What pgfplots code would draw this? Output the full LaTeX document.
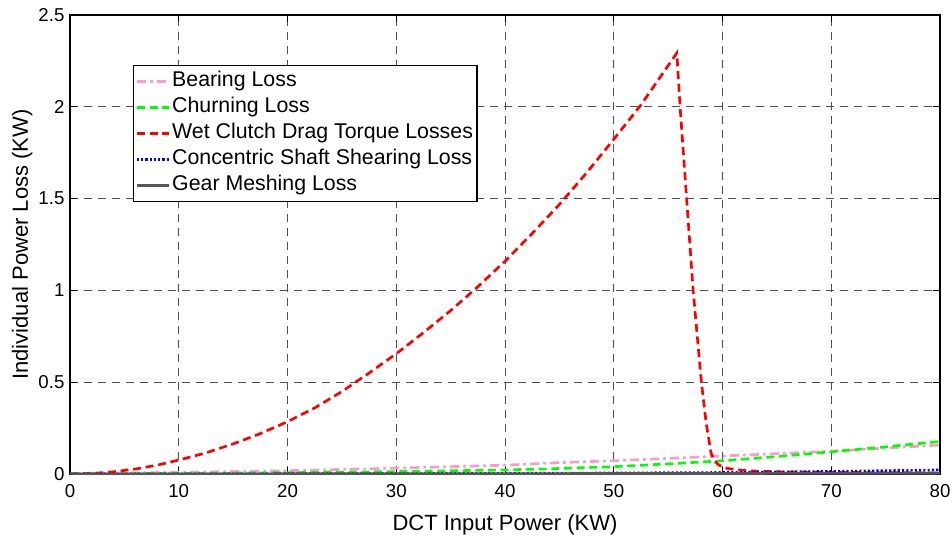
\documentclass[border=0pt]{standalone}
\usepackage{fontspec}
\setmainfont{Liberation Sans}
\usepackage{pgfplots}
\pgfplotsset{compat=1.18}

\definecolor{bearing}{RGB}{255,153,204}
\definecolor{gridgray}{RGB}{80,80,80}
\definecolor{gearmesh}{RGB}{85,85,85}

\begin{document}
\begin{tikzpicture}
\begin{axis}[
    scale only axis,
    width=652.5pt,
    height=344.25pt,
    xmin=0, xmax=80,
    ymin=0, ymax=2.5,
    xtick={0,10,...,80},
    ytick={0,0.5,1,1.5,2,2.5},
    tick align=inside,
    major tick length=5pt,
    tick style={black, line width=0.6pt},
    axis line style={line width=0.8pt},
    grid=major,
    grid style={gridgray, line width=0.7pt, dash pattern=on 6pt off 4.5pt},
    /pgf/number format/assume math mode=true,
    tick label style={font=\fontsize{14}{16}\selectfont},
    xticklabel style={inner sep=0pt, yshift=-7.5pt},
    yticklabel style={inner sep=0pt, xshift=-4pt},
    label style={font=\fontsize{16.5}{19}\selectfont},
    xlabel={DCT Input Power (KW)},
    ylabel={Individual Power Loss (KW)},
    xlabel style={at={(axis description cs:0.5,-0.122)}, anchor=base},
    ylabel style={at={(axis description cs:-0.055,0.5)}, anchor=center},
    legend cell align=left,
    legend image code/.code={\draw[#1] (0pt,0pt) -- (24pt,0pt);},
    legend style={
        at={(0.0724,0.891)}, anchor=north west,
        draw=black, line width=0.8pt,
        font=\fontsize{16}{19}\selectfont,
        inner xsep=1.5pt, inner ysep=3pt,
        row sep=1.5pt,
        nodes={inner sep=1.5pt, text height=11.5pt, text depth=3.5pt},
    },
]
% Bearing loss
\addplot[bearing, line width=2pt, dash pattern=on 7pt off 3pt on 2pt off 3pt] coordinates {
(0,0.003) (10,0.009) (20,0.018) (30,0.032) (40,0.048) (45,0.062) (50,0.072)
(60,0.098) (70,0.124) (80,0.158)
};
% Churning loss
\addplot[green, line width=2pt, dash pattern=on 6pt off 3.5pt] coordinates {
(0,0.001) (10,0.003) (20,0.007) (30,0.013) (40,0.022) (45,0.030) (50,0.040)
(55,0.055) (60,0.072) (65,0.095) (70,0.121) (75,0.148) (80,0.177)
};
% Wet clutch drag torque losses
\addplot[red, line width=2pt, dash pattern=on 6pt off 3.5pt] coordinates {
(0,0) (2,0.003) (4,0.012) (6,0.027) (8,0.048) (10,0.076) (12.5,0.115)
(15,0.164) (17.5,0.22) (20,0.285) (22.5,0.36) (25,0.449) (27.5,0.55)
(30,0.655) (32.5,0.77) (35,0.89) (37.5,1.02) (40,1.159) (42.5,1.31)
(45,1.468) (47.5,1.64) (50,1.823) (52.5,2.01) (55.8,2.293)
(56.1,2.0) (56.7,1.5) (57.3,1.0) (58.06,0.5) (58.5,0.277) (58.95,0.113)
(59.3,0.07) (59.65,0.049) (60.4,0.031) (61.5,0.022) (62.5,0.017)
(65,0.012) (70,0.009) (75,0.007) (80,0.006)
};
% Concentric shaft shearing loss
\addplot[blue, line width=2pt, dash pattern=on 1.6pt off 1.6pt] coordinates {
(0,0) (20,0.001) (40,0.003) (60,0.008) (70,0.014) (80,0.022)
};
% Gear meshing loss
\addplot[gearmesh, line width=2pt] coordinates {
(0,0) (40,0.002) (80,0.004)
};
\legend{Bearing Loss, Churning Loss, Wet Clutch Drag Torque Losses,
        Concentric Shaft Shearing Loss, Gear Meshing Loss}
\end{axis}
\path (current axis.south west) ++(-52.5pt,-45.75pt) coordinate (bbl);
\path (current axis.north east) ++(9pt,11.25pt) coordinate (btr);
\path (bbl) rectangle (btr);
\end{tikzpicture}
\end{document}
